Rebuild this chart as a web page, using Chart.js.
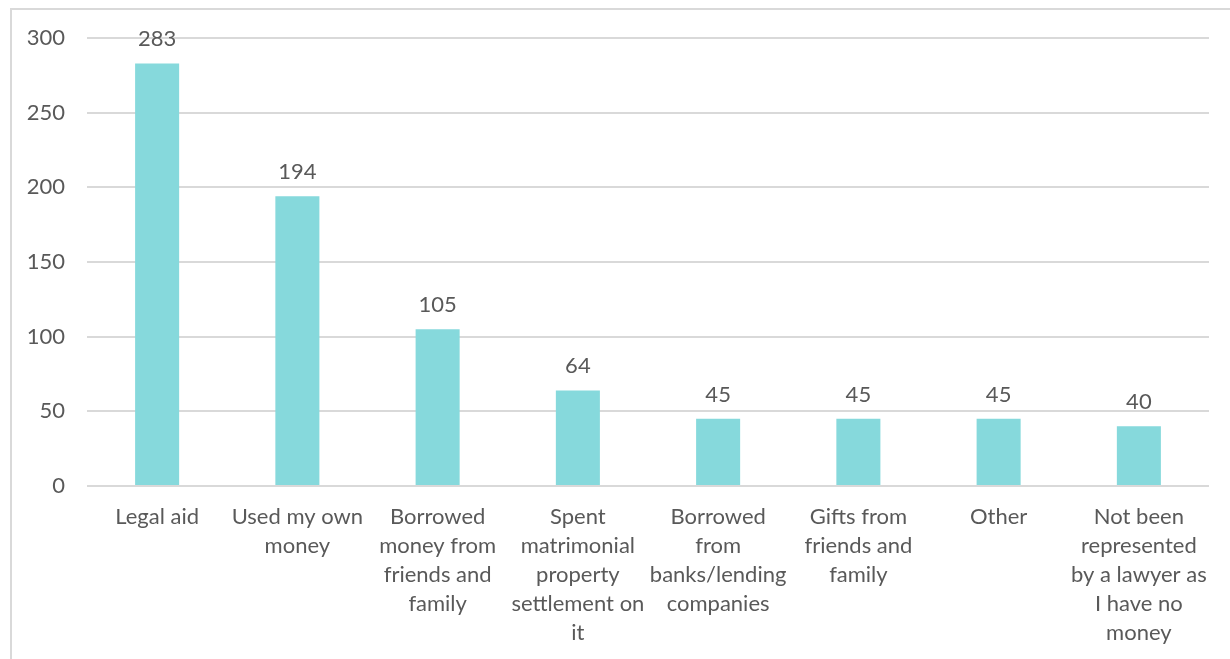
<!DOCTYPE html>
<html>
<head>
<meta charset="utf-8">
<script src="https://cdn.jsdelivr.net/npm/chart.js@4.4.1/dist/chart.umd.min.js"></script>
<style>
    html, body { margin: 0; padding: 0; background: #fff; overflow: hidden; }
    .frame {
        position: absolute; left: 10px; top: 8px; width: 1240px; height: 670px;
        border-left: 2px solid #d9d9d9; border-top: 2px solid #d9d9d9;
    }
    .chartBox { position: absolute; left: 0; top: 0; width: 1230px; height: 659px; }
</style>
</head>
<body>
<div class="frame"></div>
<div class="chartBox"><canvas id="fundingGraphic"></canvas></div>
<script>
/* Chart data */
const categories = [
    ['Legal aid'],
    ['Used my own', 'money'],
    ['Borrowed', 'money from', 'friends and', 'family'],
    ['Spent', 'matrimonial', 'property', 'settlement on', 'it'],
    ['Borrowed', 'from', 'banks/lending', 'companies'],
    ['Gifts from', 'friends and', 'family'],
    ['Other'],
    ['Not been', 'represented', 'by a lawyer as', 'I have no', 'money']
];
const respondents = [283, 194, 105, 64, 45, 45, 45, 40];
const yTicks = [0, 50, 100, 150, 200, 250, 300];

const fontFamily = 'Lato, "Open Sans", sans-serif';
const textColor = '#595959';

/* draws the value above each bar */
const valueLabels = {
    id: 'valueLabels',
    afterDatasetsDraw(chart) {
        let ctx = chart.ctx;
        let meta = chart.getDatasetMeta(0);
        ctx.save();
        ctx.font = '22px ' + fontFamily;
        ctx.fillStyle = textColor;
        ctx.textAlign = 'center';
        ctx.textBaseline = 'alphabetic';
        meta.data.forEach(function (bar, i) {
            ctx.fillText(String(respondents[i]), bar.x, bar.y - 17);
        });
        ctx.restore();
    }
};

let ctx = document.getElementById('fundingGraphic').getContext('2d');

let graphic = new Chart(ctx, {
    type: 'bar',
    data: {
        labels: categories,
        datasets: [
            {
                label: 'Respondents',
                backgroundColor: '#86d9dc',
                data: respondents,
                categoryPercentage: 1,
                barPercentage: 0.314
            }
        ]
    },
    options: {
        responsive: true,
        maintainAspectRatio: false,
        animation: false,
        layout: {
            padding: { left: 0, right: 21, top: 38, bottom: 0 }
        },
        plugins: {
            legend: { display: false },
            tooltip: { enabled: false }
        },
        scales: {
            x: {
                grid: { display: false },
                border: { display: false },
                ticks: {
                    color: textColor,
                    font: { family: fontFamily, size: 22, lineHeight: 1.32 },
                    padding: 8,
                    maxRotation: 0,
                    autoSkip: false
                },
                afterFit: function (scale) { scale.height = 173; }
            },
            y: {
                min: 0,
                max: 300,
                afterBuildTicks: function (scale) {
                    scale.ticks = yTicks.map(function (v) { return { value: v }; });
                },
                grid: { color: '#d9d9d9', lineWidth: 2, drawTicks: false },
                border: { display: false },
                ticks: {
                    color: textColor,
                    font: { family: fontFamily, size: 22 },
                    padding: 22
                },
                afterFit: function (scale) { scale.width = 87; }
            }
        }
    },
    plugins: [valueLabels]
});
</script>
</body>
</html>
